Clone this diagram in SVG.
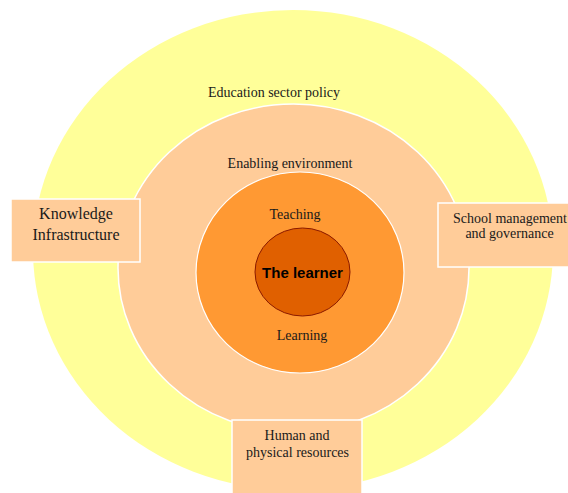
<svg xmlns="http://www.w3.org/2000/svg" width="568" height="493" viewBox="0 0 568 493">
<style>
.t{font-family:"Liberation Serif","Times New Roman",serif;font-size:14px;fill:#1a1a1a;text-anchor:middle}
.big{font-size:16px}
.box{fill:#FFCC99;stroke:#ffffff;stroke-width:1.5}
.b{font-family:"Liberation Sans",Arial,sans-serif;font-size:15px;font-weight:bold;fill:#000;text-anchor:middle}
</style>
<rect width="568" height="493" fill="#ffffff"/>
<g id="policy">
<ellipse cx="293" cy="250" rx="260" ry="240" fill="#FFFF99"/>
<text class="t" x="274" y="97">Education sector policy</text>
</g>
<g id="enabling">
<ellipse cx="293.5" cy="268" rx="175.5" ry="164" fill="#FFCC99" stroke="#ffffff" stroke-width="1.5"/>
<text class="t" x="290" y="168">Enabling environment</text>
</g>
<g id="teaching-learning">
<ellipse cx="300" cy="272.5" rx="104" ry="100.5" fill="#FF9933" stroke="#ffffff" stroke-width="1.2"/>
<text class="t" x="295" y="219">Teaching</text>
<text class="t" x="302" y="340">Learning</text>
</g>
<g id="learner">
<ellipse cx="302.5" cy="272" rx="47.5" ry="44" fill="#E06000" stroke="#8B1A00" stroke-width="1"/>
<text class="b" x="302.5" y="278">The learner</text>
</g>
<g id="knowledge">
<rect class="box" x="11" y="199" width="129" height="63"/>
<text class="t big" x="76" y="219">Knowledge</text>
<text class="t big" x="76" y="240">Infrastructure</text>
</g>
<g id="school">
<rect class="box" x="438" y="203" width="135" height="64"/>
<text class="t" x="510" y="223">School management</text>
<text class="t" x="509.5" y="238">and governance</text>
</g>
<g id="resources">
<rect class="box" x="232" y="420" width="130" height="80"/>
<text class="t" x="297" y="440">Human and</text>
<text class="t" x="297.5" y="457">physical resources</text>
</g>
<g id="connectors"/>
</svg>
